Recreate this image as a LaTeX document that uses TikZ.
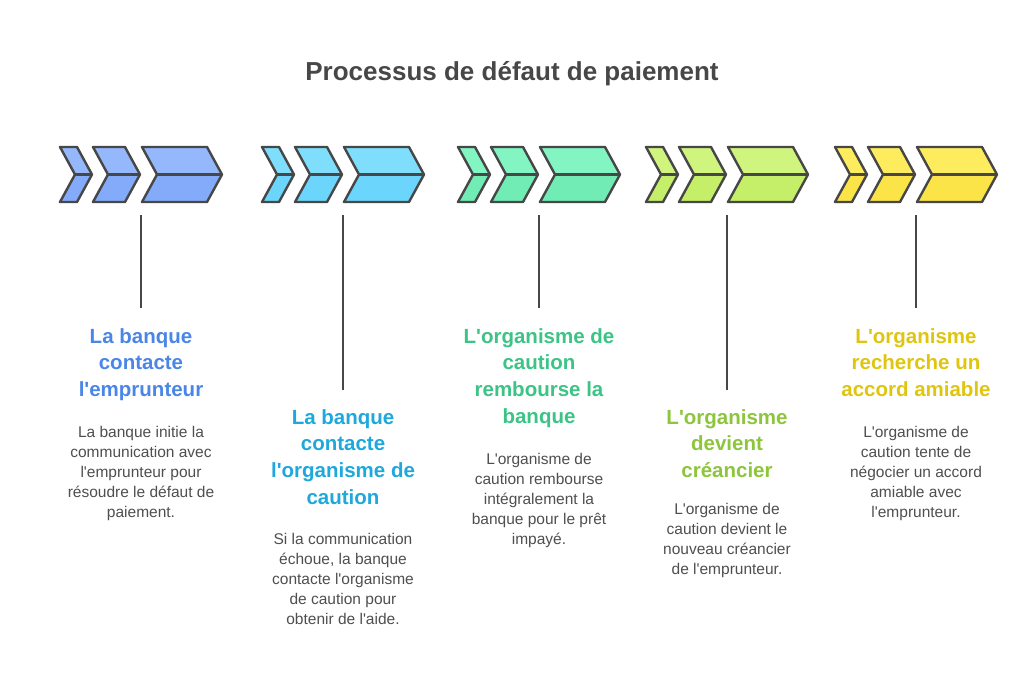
\documentclass[tikz,border=0pt]{standalone}
\usepackage{fontspec}
\newfontfamily\rob{Liberation Sans}
\definecolor{ink}{HTML}{474747}
\definecolor{bodyink}{HTML}{4F4F4F}
\definecolor{gAtop}{HTML}{94B8FB}\definecolor{gAbot}{HTML}{84ABF9}\definecolor{gAtxt}{HTML}{4A86E8}
\definecolor{gBtop}{HTML}{80DEFD}\definecolor{gBbot}{HTML}{6BD5FB}\definecolor{gBtxt}{HTML}{1EA8DC}
\definecolor{gCtop}{HTML}{82F5C2}\definecolor{gCbot}{HTML}{70ECB4}\definecolor{gCtxt}{HTML}{3BC486}
\definecolor{gDtop}{HTML}{D0F57E}\definecolor{gDbot}{HTML}{C5EF68}\definecolor{gDtxt}{HTML}{8DC53C}
\definecolor{gEtop}{HTML}{FDEC5E}\definecolor{gEbot}{HTML}{FBE448}\definecolor{gEtxt}{HTML}{E0C50E}
\tikzset{
  chevout/.style={draw=ink, line width=2.4pt, line join=round},
  stem/.style={draw=ink, line width=2.4pt},
  ttl/.style={font=\rob\fontsize{20.5}{26.7}\selectfont\bfseries, align=center, anchor=base, inner sep=0pt},
  bodytxt/.style={font=\rob\fontsize{15.5}{20}\selectfont, align=center, anchor=base, inner sep=0pt, text=bodyink},
}
\newcommand{\onechev}[5]{%
  \fill[#5top] (#1,147) -- (#2,147) -- (#3,174.5) -- (#4,174.5) -- cycle;
  \fill[#5bot] (#4,174.5) -- (#3,174.5) -- (#2,202) -- (#1,202) -- cycle;
  \draw[chevout] (#1,147) -- (#2,147) -- (#3,174.5) -- (#2,202) -- (#1,202) -- (#4,174.5) -- cycle;
  \draw[chevout] (#4,174.5) -- (#3,174.5);
}
\newcommand{\chevgroup}[2]{%
  \onechev{#1}{#1+17}{#1+32}{#1+15}{#2}
  \onechev{#1+33}{#1+65}{#1+80}{#1+48}{#2}
  \onechev{#1+82}{#1+147}{#1+162}{#1+97}{#2}
}
\begin{document}
\begin{tikzpicture}[x=1pt,y=-1pt]
\useasboundingbox (0,0) rectangle (1024,687);
\fill[white] (0,0) rectangle (1024,687);

\node[font=\rob\fontsize{26}{30}\selectfont\bfseries, text=ink, anchor=base, inner sep=0pt] (title) at (512,81) {Processus de défaut de paiement};

% chevron groups
\chevgroup{60}{gA}
\chevgroup{262}{gB}
\chevgroup{458}{gC}
\chevgroup{646}{gD}
\chevgroup{835}{gE}

% stems
\coordinate (s1) at (141,215); \coordinate (e1) at (141,308);
\coordinate (s2) at (343,215); \coordinate (e2) at (343,390);
\coordinate (s3) at (539,215); \coordinate (e3) at (539,308);
\coordinate (s4) at (727,215); \coordinate (e4) at (727,390);
\coordinate (s5) at (916,215); \coordinate (e5) at (916,308);
\draw[stem] (s1) -- (e1);
\draw[stem] (s2) -- (e2);
\draw[stem] (s3) -- (e3);
\draw[stem] (s4) -- (e4);
\draw[stem] (s5) -- (e5);

% titles (anchor = baseline of last line)
\node[ttl, text=gAtxt] (t1) at (141,396.4) {La banque\\contacte\\l'emprunteur};
\node[ttl, text=gBtxt] (t2) at (343,504.1) {La banque\\contacte\\l'organisme de\\caution};
\node[ttl, text=gCtxt] (t3) at (539,423.1) {L'organisme de\\caution\\rembourse la\\banque};
\node[ttl, text=gDtxt] (t4) at (727,477.4) {L'organisme\\devient\\créancier};
\node[ttl, text=gEtxt] (t5) at (916,396.4) {L'organisme\\recherche un\\accord amiable};

% bodies
\node[bodytxt] (b1) at (141,517) {La banque initie la\\communication avec\\l'emprunteur pour\\résoudre le défaut de\\paiement.};
\node[bodytxt] (b2) at (343,624) {Si la communication\\échoue, la banque\\contacte l'organisme\\de caution pour\\obtenir de l'aide.};
\node[bodytxt] (b3) at (539,544) {L'organisme de\\caution rembourse\\intégralement la\\banque pour le prêt\\impayé.};
\node[bodytxt] (b4) at (727,574) {L'organisme de\\caution devient le\\nouveau créancier\\de l'emprunteur.};
\node[bodytxt] (b5) at (916,517) {L'organisme de\\caution tente de\\négocier un accord\\amiable avec\\l'emprunteur.};
\end{tikzpicture}
\end{document}
